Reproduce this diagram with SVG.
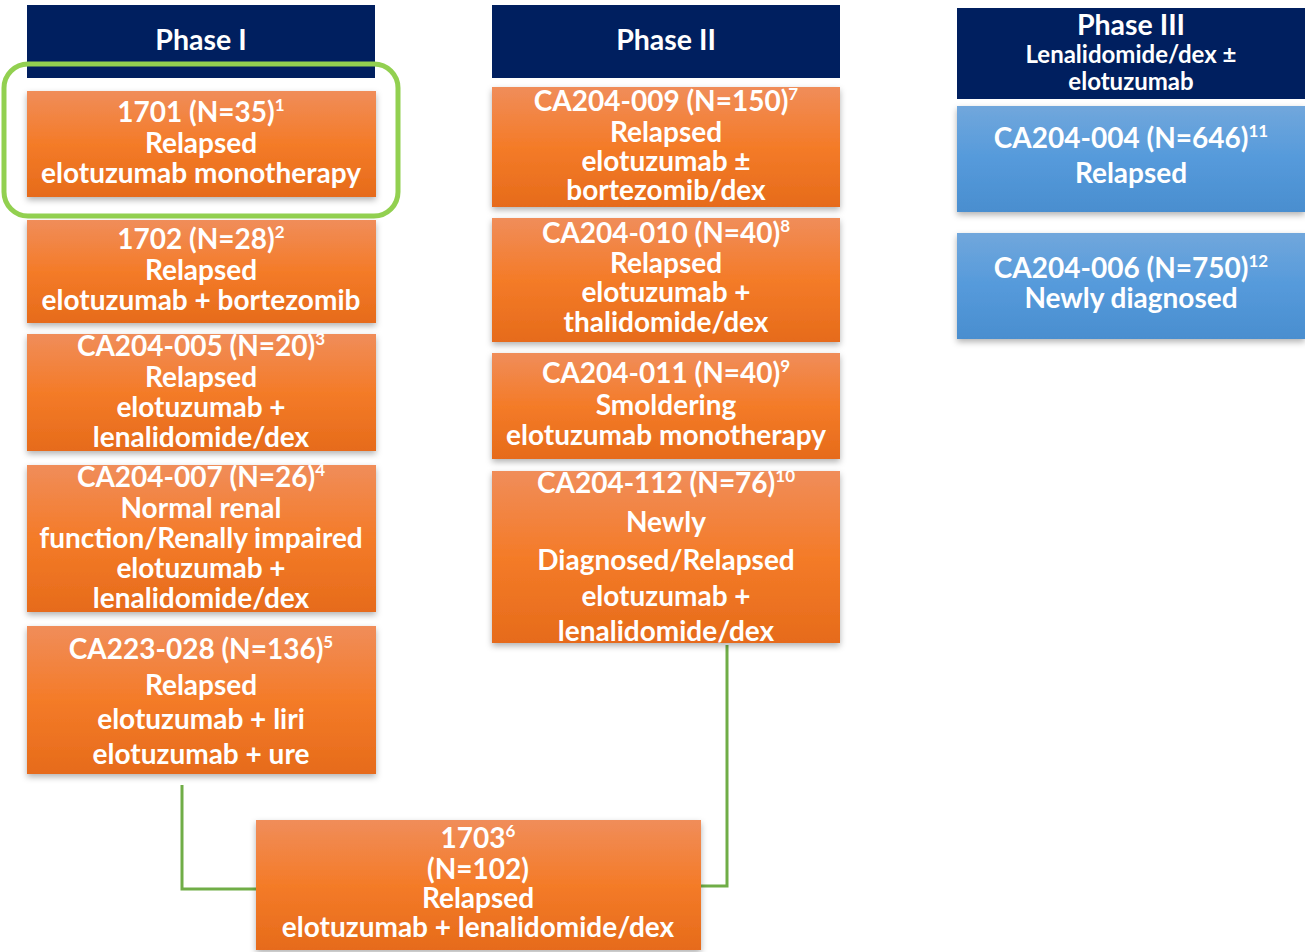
<svg xmlns="http://www.w3.org/2000/svg" width="1305" height="952" viewBox="0 0 1305 952">
<defs>
<linearGradient id="og" x1="0" y1="0" x2="0" y2="1">
<stop offset="0" stop-color="#F08D5A"/>
<stop offset="0.5" stop-color="#F47B28"/>
<stop offset="1" stop-color="#E66B1B"/>
</linearGradient>
<linearGradient id="bg" x1="0" y1="0" x2="0" y2="1">
<stop offset="0" stop-color="#71A7DC"/>
<stop offset="0.5" stop-color="#559ADB"/>
<stop offset="1" stop-color="#4A8ECF"/>
</linearGradient>
<filter id="sh" x="-5%" y="-5%" width="110%" height="120%">
<feDropShadow dx="0" dy="3" stdDeviation="3" flood-color="#000" flood-opacity="0.3"/>
</filter>
</defs>
<style>
.hdr{fill:#001F5F}
.org{fill:url(#og);filter:url(#sh)}
.blu{fill:url(#bg);filter:url(#sh)}
text{font-family:Lato,"Open Sans","Liberation Sans",sans-serif;font-weight:bold;fill:#fff;text-anchor:middle;font-size:28px}
.h{font-size:28.5px}
.s{font-size:24px}
.sup{font-size:17px}
.conn{fill:none;stroke:#70AD47;stroke-width:3}
</style>
<rect width="1305" height="952" fill="#fff"/>

<g id="connectors">
<polyline class="conn" points="182,785 182,889 256,889"/>
<polyline class="conn" points="727,645 727,886 701,886"/>
</g>

<g id="phase1-header">
<rect class="hdr" x="27" y="5" width="348" height="73"/>
<text class="h" x="201" y="50">Phase I</text>
</g>
<g id="phase2-header">
<rect class="hdr" x="492" y="5" width="348" height="73"/>
<text class="h" x="666" y="50">Phase II</text>
</g>
<g id="phase3-header">
<rect class="hdr" x="957" y="8" width="348" height="91"/>
<text class="h" x="1131" y="35">Phase III</text>
<text class="s" x="1131" y="63">Lenalidomide/dex ±</text>
<text class="s" x="1131" y="90">elotuzumab</text>
</g>

<g id="n1701">
<rect class="org" x="27" y="91" width="349" height="106"/>
<text x="201" y="122">1701 (N=35)<tspan class="sup" dy="-11">1</tspan></text>
<text x="201" y="153">Relapsed</text>
<text x="201" y="183">elotuzumab monotherapy</text>
</g>
<g id="highlight">
<rect x="4" y="64" width="394" height="152" rx="24" fill="none" stroke="#92D050" stroke-width="5"/>
</g>
<g id="n1702">
<rect class="org" x="27" y="220" width="349" height="103"/>
<text x="201" y="249">1702 (N=28)<tspan class="sup" dy="-11">2</tspan></text>
<text x="201" y="280">Relapsed</text>
<text x="201" y="310">elotuzumab + bortezomib</text>
</g>
<g id="nCA204-005">
<rect class="org" x="27" y="334" width="349" height="117"/>
<text x="201" y="356">CA204-005 (N=20)<tspan class="sup" dy="-11">3</tspan></text>
<text x="201" y="387">Relapsed</text>
<text x="201" y="417">elotuzumab +</text>
<text x="201" y="447">lenalidomide/dex</text>
</g>
<g id="nCA204-007">
<rect class="org" x="27" y="465" width="349" height="147"/>
<text x="201" y="487">CA204-007 (N=26)<tspan class="sup" dy="-11">4</tspan></text>
<text x="201" y="518">Normal renal</text>
<text x="201" y="548">function/Renally impaired</text>
<text x="201" y="578">elotuzumab +</text>
<text x="201" y="608">lenalidomide/dex</text>
</g>
<g id="nCA223-028">
<rect class="org" x="27" y="626" width="349" height="148"/>
<text x="201" y="659">CA223-028 (N=136)<tspan class="sup" dy="-11">5</tspan></text>
<text x="201" y="695">Relapsed</text>
<text x="201" y="729">elotuzumab + liri</text>
<text x="201" y="764">elotuzumab + ure</text>
</g>

<g id="nCA204-009">
<rect class="org" x="492" y="87" width="348" height="120"/>
<text x="666" y="111">CA204-009 (N=150)<tspan class="sup" dy="-11">7</tspan></text>
<text x="666" y="142">Relapsed</text>
<text x="666" y="171">elotuzumab ±</text>
<text x="666" y="200">bortezomib/dex</text>
</g>
<g id="nCA204-010">
<rect class="org" x="492" y="218" width="348" height="124"/>
<text x="666" y="243">CA204-010 (N=40)<tspan class="sup" dy="-11">8</tspan></text>
<text x="666" y="273">Relapsed</text>
<text x="666" y="302">elotuzumab +</text>
<text x="666" y="332">thalidomide/dex</text>
</g>
<g id="nCA204-011">
<rect class="org" x="492" y="353" width="348" height="106"/>
<text x="666" y="383">CA204-011 (N=40)<tspan class="sup" dy="-11">9</tspan></text>
<text x="666" y="415">Smoldering</text>
<text x="666" y="445">elotuzumab monotherapy</text>
</g>
<g id="nCA204-112">
<rect class="org" x="492" y="471" width="348" height="172"/>
<text x="666" y="493">CA204-112 (N=76)<tspan class="sup" dy="-11">10</tspan></text>
<text x="666" y="532">Newly</text>
<text x="666" y="570">Diagnosed/Relapsed</text>
<text x="666" y="606">elotuzumab +</text>
<text x="666" y="641">lenalidomide/dex</text>
</g>

<g id="nCA204-004">
<rect class="blu" x="957" y="106" width="348" height="106"/>
<text x="1131" y="148">CA204-004 (N=646)<tspan class="sup" dy="-11">11</tspan></text>
<text x="1131" y="183">Relapsed</text>
</g>
<g id="nCA204-006">
<rect class="blu" x="957" y="233" width="348" height="106"/>
<text x="1131" y="278">CA204-006 (N=750)<tspan class="sup" dy="-11">12</tspan></text>
<text x="1131" y="308">Newly diagnosed</text>
</g>

<g id="n1703">
<rect class="org" x="256" y="820" width="445" height="130"/>
<text x="478" y="848">1703<tspan class="sup" dy="-11">6</tspan></text>
<text x="478" y="879">(N=102)</text>
<text x="478" y="908">Relapsed</text>
<text x="478" y="937">elotuzumab + lenalidomide/dex</text>
</g>
</svg>
